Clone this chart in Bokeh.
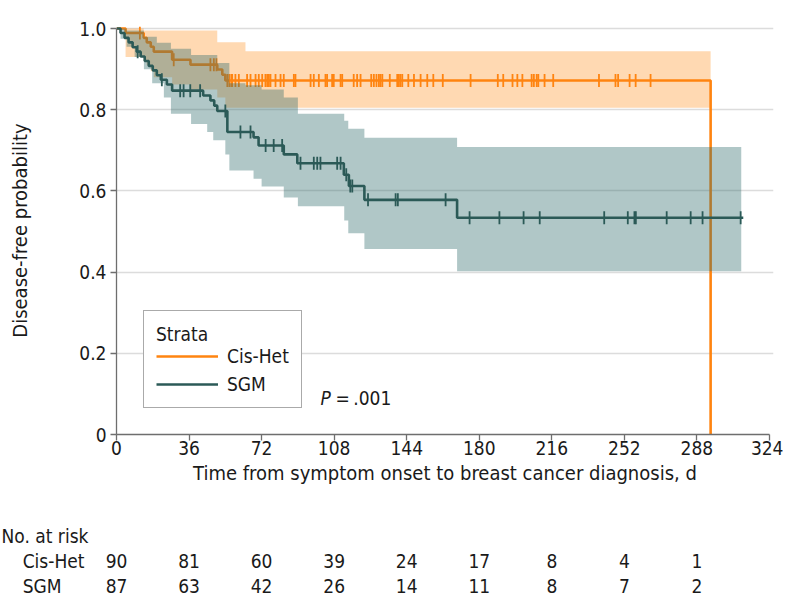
import numpy as np
from bokeh.plotting import figure
from bokeh.models import Range1d, FixedTicker, Legend, LegendItem, Label
from bokeh.embed import file_html
from bokeh.resources import INLINE
from bokeh.core.properties import value

FONT = "DejaVu Sans Condensed"
FS = "19px"

# ---------------- data ----------------
# Cis-Het Kaplan-Meier steps (days, survival)
cis_t = [0, 4.5, 13.5, 15, 17, 18.5, 27.6, 36.7, 50, 52.5, 54, 294.8]
cis_s = [1.0, 0.989, 0.977, 0.966, 0.955, 0.943, 0.923, 0.911, 0.899, 0.886, 0.872, 0.0]
cis_cens = [11.6, 28.4, 46.6, 48.3, 49.6, 55, 56, 57, 57.4, 59, 60.7, 64.8, 66.5, 69, 70.6,
            72.3, 73.9, 74.8, 75.6, 76.4, 78.9, 81.4, 83, 88, 88.8, 96.3, 97.9, 100.4, 103.7,
            104.5, 107, 107.8, 111.2, 112, 117.7, 119.4, 121.1, 126.4, 127.7, 129, 130.2, 131,
            131.9, 135.6, 139.3, 140.1, 140.9, 141.8, 144.8, 147.6, 150.9, 154.2, 157.2, 161.9,
            175.7, 189.2, 191.9, 196.5, 198.9, 201.4, 206, 207.1, 208.5, 209.3, 212.4, 216.7,
            239.4, 247.6, 248.9, 254.6, 257.6, 265]
cis_band_t = [0, 4.5, 13.5, 15, 17, 18.5, 27.6, 36.7, 50, 54, 64, 294.8]
cis_band_lo = [1.0, 0.93, 0.92, 0.91, 0.895, 0.88, 0.862, 0.85, 0.83, 0.805, 0.805, 0.805]
cis_band_hi = [1.0, 1.0, 0.995, 0.995, 0.995, 0.995, 0.995, 0.995, 0.966, 0.966, 0.944, 0.944]

# SGM Kaplan-Meier steps
sgm_t = [0, 2, 4, 6, 8, 10, 12, 14, 16, 18, 20, 22, 25, 27.6, 43, 46.6, 48.5, 50, 55, 68,
         70.5, 83, 89.7, 112.8, 115.3, 123, 169, 311]
sgm_s = [1.0, 0.989, 0.977, 0.966, 0.954, 0.943, 0.931, 0.92, 0.908, 0.897, 0.885, 0.874,
         0.862, 0.847, 0.835, 0.823, 0.81, 0.797, 0.745, 0.732, 0.712, 0.69, 0.668, 0.64,
         0.612, 0.578, 0.534, 0.534]
sgm_cens = [10.5, 22.5, 31.6, 33.3, 36.6, 41.5, 54, 61.5, 66.5, 74, 78, 82.2, 91.3, 97.9,
            99.6, 101.2, 109.5, 111.2, 114, 116, 117, 124.8, 138.5, 139.6, 163.3, 175.2, 190,
            202, 210, 242, 253.7, 257, 257.7, 273, 284.9, 290.8, 309.7]
sgm_band_t = [0, 2, 5, 9, 13.6, 17.7, 20, 23.5, 27, 37, 45, 48, 50, 54, 56, 64, 68, 72, 83,
              90, 113, 115, 123, 169, 310]
sgm_band_hi = [1.0, 1.0, 0.995, 0.995, 0.98, 0.98, 0.965, 0.965, 0.95, 0.935, 0.935, 0.935,
               0.915, 0.915, 0.865, 0.86, 0.86, 0.85, 0.83, 0.79, 0.773, 0.753, 0.731, 0.708,
               0.708]
sgm_band_lo = [1.0, 0.975, 0.955, 0.93, 0.9, 0.865, 0.865, 0.83, 0.79, 0.765, 0.745, 0.725,
               0.725, 0.69, 0.65, 0.65, 0.63, 0.611, 0.584, 0.562, 0.527, 0.496, 0.457, 0.402,
               0.402]

# risk table
risk_groups = ["Cis-Het", "SGM"]
risk_times = [0, 36, 72, 108, 144, 180, 216, 252, 288]
risk_cis = [90, 81, 60, 39, 24, 17, 8, 4, 1]
risk_sgm = [87, 63, 42, 26, 14, 11, 8, 7, 2]

x_ticks = [0, 36, 72, 108, 144, 180, 216, 252, 288, 324]
y_ticks = [0, 0.2, 0.4, 0.6, 0.8, 1.0]
y_labels = ["0", "0.2", "0.4", "0.6", "0.8", "1.0"]

ORANGE = "#FF8410"
TEAL = "#2B5A57"
TXT = "#1A1A1A"


def surv_at(times, surv, t):
    i = np.searchsorted(np.array(times), t, side="right") - 1
    return surv[i]


# ---------------- main plot ----------------
LEFT = 116
FRAME_W = 657
X_END = 326
W = LEFT + FRAME_W + 10
p = figure(width=W, height=498, x_range=Range1d(0, X_END), y_range=Range1d(0, 1.005),
           output_backend="svg", toolbar_location=None,
           min_border_left=LEFT, min_border_right=10, min_border_top=26, min_border_bottom=64)
p.outline_line_color = None
p.background_fill_color = "white"

p.varea_step(x=cis_band_t, y1=cis_band_lo, y2=cis_band_hi, step_mode="after",
             fill_color="#FF8000", fill_alpha=0.3)
r_cis = p.step(cis_t, cis_s, mode="after", line_color=ORANGE, line_width=2.6)
p.scatter(cis_cens, [surv_at(cis_t, cis_s, t) for t in cis_cens], marker="dash",
          angle=np.pi / 2, size=13, line_color=ORANGE, line_width=1.8)

p.varea_step(x=sgm_band_t, y1=sgm_band_lo, y2=sgm_band_hi, step_mode="after",
             fill_color="#2F6B6B", fill_alpha=0.38)
r_sgm = p.step(sgm_t, sgm_s, mode="after", line_color=TEAL, line_width=2.6)
p.scatter(sgm_cens, [surv_at(sgm_t, sgm_s, t) for t in sgm_cens], marker="dash",
          angle=np.pi / 2, size=13, line_color=TEAL, line_width=1.8)

p.xgrid.visible = False
p.ygrid.ticker = FixedTicker(ticks=y_ticks[1:])
p.ygrid.grid_line_color = "#DCDCDC"
p.ygrid.grid_line_width = 1.5

for ax in (p.xaxis[0], p.yaxis[0]):
    ax.axis_line_color = "#6E6E6E"
    ax.axis_line_width = 1.3
    ax.major_tick_line_color = "#6E6E6E"
    ax.major_tick_line_width = 1.3
    ax.major_tick_in = 0
    ax.major_tick_out = 6
    ax.minor_tick_line_color = None
    ax.major_label_text_font = FONT
    ax.major_label_text_font_size = FS
    ax.major_label_text_color = TXT
    ax.axis_label_text_font = FONT
    ax.axis_label_text_font_size = "20px"
    ax.axis_label_text_font_style = "normal"
    ax.axis_label_text_color = TXT

p.xaxis.ticker = FixedTicker(ticks=x_ticks)
p.xaxis.bounds = (0, 324)
p.xaxis.axis_label = "Time from symptom onset to breast cancer diagnosis, d"
p.xaxis.major_label_standoff = 0
p.xaxis.axis_label_standoff = 3

p.yaxis.ticker = FixedTicker(ticks=y_ticks)
p.yaxis.bounds = (0, 1)
p.yaxis.major_label_overrides = {t: l for t, l in zip(y_ticks, y_labels)}
p.yaxis.axis_label = "Disease-free probability"
p.yaxis.major_label_standoff = 4
p.yaxis.axis_label_standoff = 44

legend = Legend(items=[LegendItem(label=risk_groups[0], renderers=[r_cis]),
                       LegendItem(label=risk_groups[1], renderers=[r_sgm])],
                location=(27, 26), title="Strata")
legend.title_text_font = FONT
legend.title_text_font_size = FS
legend.title_text_font_style = "normal"
legend.title_text_color = TXT
legend.title_standoff = 0
legend.label_text_font = FONT
legend.label_text_font_size = FS
legend.label_text_color = TXT
legend.glyph_width = 62
legend.glyph_height = 22
legend.label_standoff = 9
legend.spacing = 6
legend.padding = 12
legend.margin = 0
legend.border_line_color = "#555555"
legend.border_line_width = 1.5
legend.background_fill_color = "white"
legend.background_fill_alpha = 1.0
p.add_layout(legend)

p.add_layout(Label(x=101.2, y=0.091, text="P", text_font=FONT, text_font_size=FS,
                   text_font_style="italic", text_baseline="middle", text_color=TXT))
p.add_layout(Label(x=108.7, y=0.091, text="=\u2009.001", text_font=FONT, text_font_size=FS,
                   text_baseline="middle", text_color=TXT))

# ---------------- risk table (separate root, same x scale) ----------------
x_left = -LEFT * X_END / FRAME_W
r = figure(width=W, height=100, x_range=Range1d(x_left, X_END), y_range=Range1d(0, 100),
           output_backend="svg", toolbar_location=None, x_axis_type=None, y_axis_type=None,
           min_border_left=0, min_border_right=10, min_border_top=0, min_border_bottom=0)
r.outline_line_color = None
r.xgrid.visible = False
r.ygrid.visible = False

txt = dict(text_font=value(FONT), text_font_size=FS, text_color=TXT,
           text_baseline="middle")
r.text(x=[x_left + 0.5], y=[63], text=["No. at risk"], text_align="left", **txt)
r.text(x=[x_left + 11] * 2, y=[38, 13], text=risk_groups, text_align="left", **txt)
r.text(x=risk_times, y=[38] * len(risk_times), text=[str(v) for v in risk_cis],
       text_align="center", **txt)
r.text(x=risk_times, y=[13] * len(risk_times), text=[str(v) for v in risk_sgm],
       text_align="center", **txt)

open("out.html", "w").write(file_html([p, r], INLINE))
